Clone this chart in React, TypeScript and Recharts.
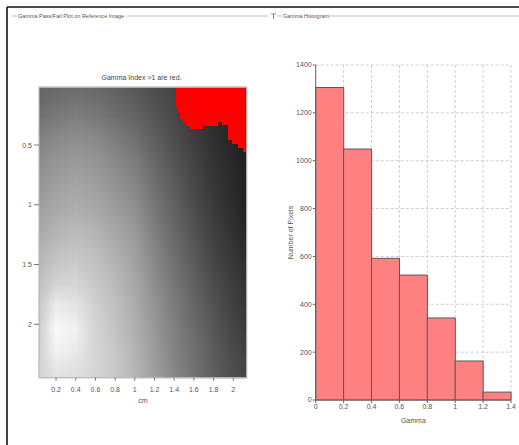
import React from 'react';
import { ComposedChart, XAxis, YAxis, ReferenceArea, BarChart, Bar, CartesianGrid } from 'recharts';

// ---------- Gamma map (left) ----------
const mapXDomain: [number, number] = [0.027, 2.136];
const mapYDomain: [number, number] = [0.017, 2.447];
const mapXTicks = [0.2, 0.4, 0.6, 0.8, 1, 1.2, 1.4, 1.6, 1.8, 2];
const mapYTicks = [0.5, 1, 1.5, 2];

// sample positions (cm) of the grayscale reference image
const grayColsX = [0.03, 0.2, 0.4, 0.6, 0.8, 1.0, 1.2, 1.4, 1.6, 1.8, 2.0, 2.13];
const grayRowsY = [0.03, 0.25, 0.45, 0.65, 0.85, 1.05, 1.25, 1.45, 1.65, 1.85, 2.05, 2.25, 2.44];
// gray level (0-255) per row (top to bottom), per column (left to right)
const grayLevels = [
  [100, 105, 108, 105, 98, 88, 78, 68, 55, 45, 40, 38],
  [112, 120, 125, 120, 110, 100, 85, 72, 58, 45, 38, 35],
  [128, 138, 142, 138, 125, 112, 95, 78, 62, 48, 38, 32],
  [140, 150, 155, 150, 138, 125, 105, 85, 68, 52, 40, 32],
  [150, 160, 165, 160, 148, 135, 112, 92, 72, 55, 42, 33],
  [160, 170, 175, 170, 158, 145, 120, 98, 78, 60, 45, 35],
  [170, 182, 188, 182, 168, 155, 128, 105, 84, 65, 50, 40],
  [182, 195, 200, 192, 178, 162, 135, 112, 90, 70, 55, 45],
  [192, 210, 212, 200, 185, 168, 142, 118, 96, 76, 60, 50],
  [200, 235, 228, 208, 192, 172, 148, 124, 102, 82, 65, 55],
  [205, 250, 240, 212, 196, 176, 152, 128, 108, 88, 70, 60],
  [210, 240, 232, 214, 200, 180, 156, 132, 112, 92, 75, 65],
  [212, 225, 222, 212, 200, 182, 158, 135, 115, 95, 78, 70],
];

// region where gamma > 1 (red): column spans and lower boundary (cm)
const redX1 = [1.418, 1.44, 1.46, 1.49, 1.52, 1.56, 1.69, 1.84, 1.885, 1.946, 1.987, 2.047, 2.098];
const redX2 = [1.44, 1.46, 1.49, 1.52, 1.56, 1.69, 1.84, 1.885, 1.946, 1.987, 2.047, 2.098, 2.136];
const redBottom = [0.18, 0.23, 0.28, 0.315, 0.34, 0.365, 0.34, 0.305, 0.33, 0.46, 0.49, 0.525, 0.56];

// ---------- Histogram (right) ----------
const histBinCenters = [0.1, 0.3, 0.5, 0.7, 0.9, 1.1, 1.3];
const histCounts = [1306, 1049, 592, 522, 343, 163, 33];
const histXTicks = [0, 0.2, 0.4, 0.6, 0.8, 1, 1.2, 1.4];
const histYTicks = [0, 200, 400, 600, 800, 1000, 1200, 1400];

const FONT = '"Liberation Sans", Arial, sans-serif';

const histData = histBinCenters.map((c, i) => ({ gamma: c, count: histCounts[i] }));

type Band = { y1: number; y2: number; base: number; over: number | null };
const bands: Band[] = [];
bands.push({ y1: mapYDomain[0], y2: grayRowsY[0], base: 0, over: null });
for (let k = 0; k < grayRowsY.length - 1; k++) {
  bands.push({ y1: grayRowsY[k], y2: grayRowsY[k + 1], base: k, over: k + 1 });
}
bands.push({ y1: grayRowsY[grayRowsY.length - 1], y2: mapYDomain[1], base: grayRowsY.length - 1, over: null });

const GammaMap = () => {
  const span = mapXDomain[1] - mapXDomain[0];
  return (
    <ComposedChart
      width={260}
      height={420}
      margin={{ top: 87.3, right: 13.3, left: 9, bottom: 12.3 }}
      data={[]}
    >
      <defs>
        {grayLevels.map((row, i) => (
          <linearGradient key={i} id={`grow${i}`} x1="0" y1="0" x2="1" y2="0">
            {row.map((g, j) => (
              <stop
                key={j}
                offset={(grayColsX[j] - mapXDomain[0]) / span}
                stopColor={`rgb(${g},${g},${g})`}
              />
            ))}
          </linearGradient>
        ))}
        <linearGradient id="fadeGrad" x1="0" y1="0" x2="0" y2="1">
          <stop offset="0" stopColor="#fff" stopOpacity={0} />
          <stop offset="1" stopColor="#fff" stopOpacity={1} />
        </linearGradient>
        <mask id="fadeDown" maskContentUnits="objectBoundingBox">
          <rect x={0} y={0} width={1} height={1} fill="url(#fadeGrad)" />
        </mask>
      </defs>
      <XAxis
        type="number"
        dataKey="x"
        domain={mapXDomain}
        ticks={mapXTicks}
        allowDataOverflow
        axisLine={false}
        tickLine={{ stroke: '#777' }}
        tickSize={3}
        tickMargin={6}
        height={30}
        tick={{ fontSize: 7, fill: '#555', fontFamily: FONT }}
        label={{ value: 'cm', position: 'insideBottom', offset: 5, fontSize: 7, fill: '#555', fontFamily: FONT }}
      />
      <YAxis
        type="number"
        dataKey="y"
        domain={mapYDomain}
        ticks={mapYTicks}
        reversed
        allowDataOverflow
        axisLine={false}
        tickLine={{ stroke: '#777' }}
        tickSize={5}
        tickMargin={2}
        width={30}
        tick={{ fontSize: 7, fill: '#555', fontFamily: FONT }}
      />
      {bands.map((b, i) => (
        <ReferenceArea
          key={`b${i}`}
          x1={mapXDomain[0]}
          x2={mapXDomain[1]}
          y1={b.y1}
          y2={b.y2}
          ifOverflow="visible"
          shape={(p: any) => (
            <rect x={p.x} y={p.y - 0.5} width={p.width} height={p.height + 1} fill={`url(#grow${b.base})`} />
          )}
        />
      ))}
      {bands
        .filter((b) => b.over !== null)
        .map((b, i) => (
          <ReferenceArea
            key={`o${i}`}
            x1={mapXDomain[0]}
            x2={mapXDomain[1]}
            y1={b.y1}
            y2={b.y2}
            ifOverflow="visible"
            shape={(p: any) => (
              <rect
                x={p.x}
                y={p.y}
                width={p.width}
                height={p.height}
                fill={`url(#grow${b.over})`}
                mask="url(#fadeDown)"
              />
            )}
          />
        ))}
      {redX1.map((x1, i) => (
        <ReferenceArea
          key={`r${i}`}
          x1={x1}
          x2={redX2[i]}
          y1={mapYDomain[0]}
          y2={redBottom[i]}
          ifOverflow="visible"
          shape={(p: any) => (
            <rect x={p.x} y={p.y} width={p.width} height={p.height} fill="#ff0000" shapeRendering="crispEdges" />
          )}
        />
      ))}
      <ReferenceArea
        x1={mapXDomain[0]}
        x2={mapXDomain[1]}
        y1={mapYDomain[0]}
        y2={mapYDomain[1]}
        ifOverflow="visible"
        shape={(p: any) => (
          <rect x={p.x} y={p.y} width={p.width} height={p.height} fill="none" stroke="#b8b8b8" strokeWidth={1.2} />
        )}
      />
    </ComposedChart>
  );
};

const Histogram = () => (
  <BarChart
    width={259}
    height={415}
    data={histData}
    margin={{ top: 35, right: 8, left: 10.7, bottom: 15 }}
    barCategoryGap={0}
    barGap={0}
  >
    <CartesianGrid strokeDasharray="3 2" stroke="#cfcfcf" />
    <XAxis
      type="number"
      dataKey="gamma"
      domain={[0, 1.4]}
      ticks={histXTicks}
      axisLine={{ stroke: '#666' }}
      tickLine={{ stroke: '#666' }}
      tickSize={3}
      tickMargin={1}
      height={30}
      tick={{ fontSize: 7, fill: '#555', fontFamily: FONT }}
      label={{ value: 'Gamma', position: 'insideBottom', offset: 7.5, fontSize: 7, fill: '#555', fontFamily: FONT }}
    />
    <YAxis
      type="number"
      domain={[0, 1400]}
      ticks={histYTicks}
      axisLine={{ stroke: '#666' }}
      tickLine={{ stroke: '#666' }}
      tickSize={3}
      tickMargin={1}
      width={45}
      tick={{ fontSize: 7, fill: '#555', fontFamily: FONT }}
      label={{
        value: 'Number of Pixels',
        angle: -90,
        position: 'insideLeft',
        offset: 20,
        fontSize: 7,
        fill: '#555',
        fontFamily: FONT,
        style: { textAnchor: 'middle' },
      }}
    />
    <Bar dataKey="count" fill="#ff8080" stroke="#5a5a5a" strokeWidth={1} isAnimationActive={false} />
  </BarChart>
);

export default function App() {
  return (
    <div
      style={{
        position: 'absolute',
        left: 0,
        top: 0,
        width: 519,
        height: 445,
        background: '#fff',
        overflow: 'hidden',
      }}
    >
      <svg width={519} height={445} style={{ position: 'absolute', left: 0, top: 0 }}>
        <line x1={7} y1={7} x2={519} y2={7} stroke="#111" strokeWidth={1.6} />
        <line x1={7} y1={7} x2={7} y2={445} stroke="#111" strokeWidth={1.6} />
        <line x1={12} y1={16} x2={17} y2={16} stroke="#d4d4d4" strokeWidth={1.5} />
        <text x={18} y={18} fontSize={5.5} fill="#555" fontFamily={FONT}>
          Gamma Pass/Fail Plot on Reference Image
        </text>
        <line x1={127} y1={16} x2={268} y2={16} stroke="#d4d4d4" strokeWidth={1.5} />
        <line x1={271} y1={14} x2={276} y2={14} stroke="#888" strokeWidth={1} />
        <line x1={273.5} y1={14} x2={273.5} y2={19} stroke="#888" strokeWidth={1} />
        <line x1={277} y1={16} x2={282} y2={16} stroke="#d4d4d4" strokeWidth={1.5} />
        <text x={283} y={18} fontSize={5.5} fill="#555" fontFamily={FONT}>
          Gamma Histogram
        </text>
        <line x1={329} y1={16} x2={519} y2={16} stroke="#d4d4d4" strokeWidth={1.5} />
        <text x={141.5} y={79.5} fontSize={7} fill="#444" fontFamily={FONT} textAnchor="middle">
          Gamma Index &gt;1 are red.
        </text>
      </svg>
      <div style={{ position: 'absolute', left: 0, top: 0 }}>
        <GammaMap />
      </div>
      <div style={{ position: 'absolute', left: 260, top: 30 }}>
        <Histogram />
      </div>
    </div>
  );
}
